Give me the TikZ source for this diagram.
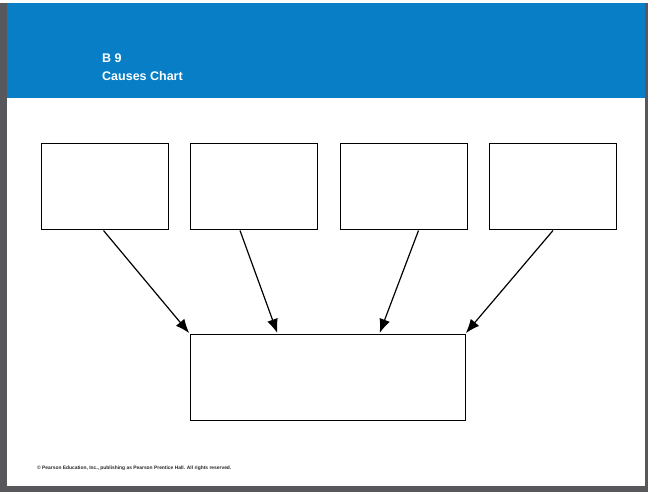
\documentclass[tikz,border=0pt]{standalone}
\usepackage{fontspec}
\setsansfont{Liberation Sans}
\usepackage{tikz}
\usetikzlibrary{arrows.meta,positioning}

\definecolor{bannerblue}{RGB}{8,126,198}
\definecolor{framegray}{RGB}{88,88,92}

\begin{document}
\begin{tikzpicture}[x=1pt,y=-1pt,node distance=149.5pt,
  causebox/.style={draw,line width=1pt,minimum width=127pt,minimum height=86pt,inner sep=0pt},
  effectbox/.style={draw,line width=1pt,minimum width=275pt,minimum height=86pt,inner sep=0pt},
  cause/.style={-{Latex[length=14pt,width=11pt]},line width=1.2pt,shorten >=0.5pt},
  title/.style={text=white,font=\sffamily\bfseries\fontsize{12.5}{14}\selectfont,anchor=west,inner sep=0pt}]

\useasboundingbox (0,0) rectangle (650,494);
\fill[white] (0,0) rectangle (650,494);

% page frame and banner
\fill[framegray] (0,3) rectangle (7,492);
\fill[framegray] (0,486) rectangle (648,492);
\fill[framegray] (645,3) rectangle (648,492);
\fill[bannerblue] (7,3) rectangle (645,98);

\node[title] (num)   at (102,58) {B 9};
\node[title] (chart) at (102,76) {Causes Chart};

% causes
\node[causebox] (c1) at (104.5,187) {};
\node[causebox] (c2) [right of=c1] {};
\node[causebox] (c3) [right of=c2] {};
\node[causebox] (c4) [right of=c3] {};

% effect
\node[effectbox] (E) at (327.5,377) {};

\draw[cause] ([xshift=-1pt]c1.south) -- (E.north west);
\draw[cause] ([xshift=-14pt]c2.south) -- ([xshift=-50pt]E.north);
\draw[cause] ([xshift=15pt]c3.south) -- ([xshift=52pt]E.north);
\draw[cause] (c4.south) -- (E.north east);

\node[anchor=west,inner sep=0pt,text=black!85,font=\sffamily\bfseries\fontsize{4.9}{6}\selectfont] (copy) at (37,468)
  {\textcopyright{} Pearson Education, Inc., publishing as Pearson Prentice Hall. All rights reserved.};
\end{tikzpicture}
\end{document}
